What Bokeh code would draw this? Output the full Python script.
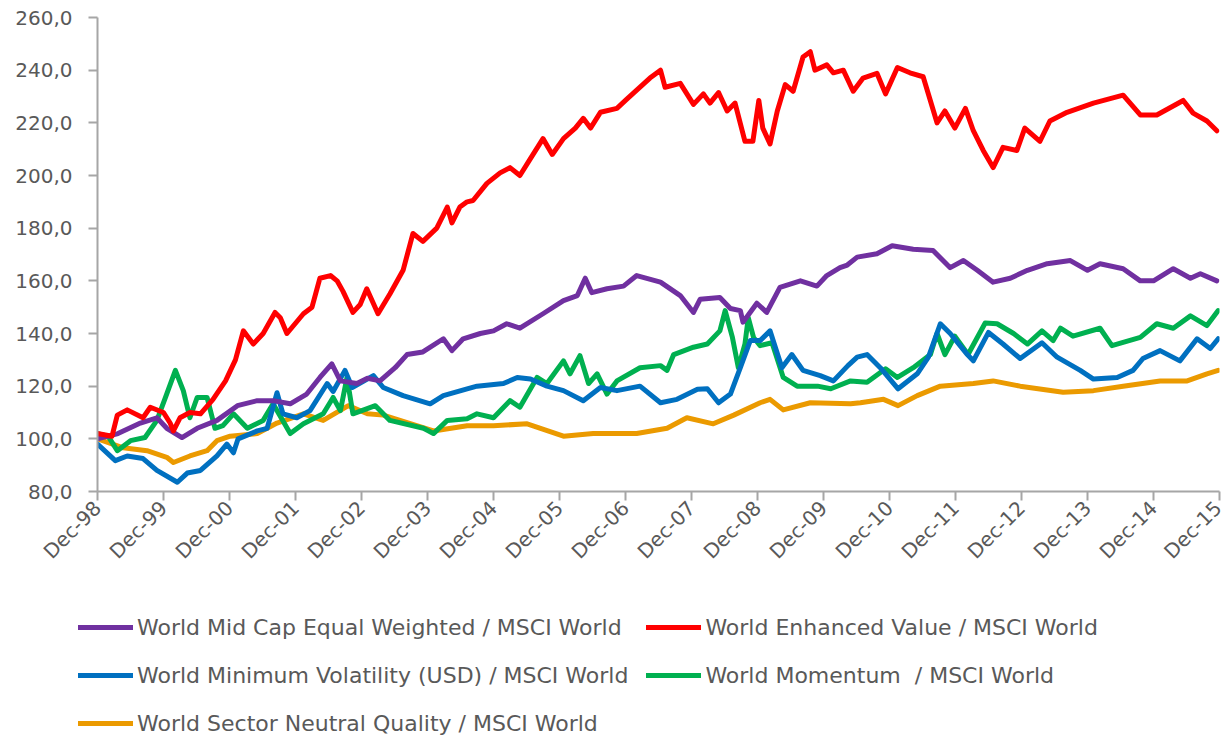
import math
from bokeh.plotting import figure
from bokeh.layouts import column, row
from bokeh.models import FixedTicker, Legend, LegendItem
from bokeh.embed import file_html
from bokeh.resources import INLINE

# ---- axis ticks / labels ----
x_tick_pos = list(range(1999, 2017))
x_tick_labels = ["Dec-98", "Dec-99", "Dec-00", "Dec-01", "Dec-02", "Dec-03", "Dec-04",
                 "Dec-05", "Dec-06", "Dec-07", "Dec-08", "Dec-09", "Dec-10", "Dec-11",
                 "Dec-12", "Dec-13", "Dec-14", "Dec-15"]
y_tick_pos = [80, 100, 120, 140, 160, 180, 200, 220, 240, 260]
y_tick_labels = ["80,0", "100,0", "120,0", "140,0", "160,0", "180,0", "200,0", "220,0", "240,0", "260,0"]

# ---- series (time in decimal years; 1999.0 = end of Dec-98) ----
midcap_t = [0, 0.31, 0.65, 0.90, 1.05, 1.28, 1.51, 1.81, 2.12, 2.42, 2.66, 2.92, 3.17, 3.37, 3.55,
            3.68, 3.93, 4.09, 4.28, 4.51, 4.69, 4.93, 5.24, 5.37, 5.54, 5.80, 6.00, 6.20, 6.40, 6.75,
            7.06, 7.27, 7.39, 7.49, 7.72, 7.97, 8.17, 8.53, 8.83, 9.03, 9.13, 9.43, 9.59, 9.74, 9.78,
            9.99, 10.14, 10.34, 10.65, 10.90, 11.05, 11.25, 11.36, 11.51, 11.81, 12.04, 12.36, 12.66,
            12.92, 13.12, 13.33, 13.57, 13.83, 14.09, 14.39, 14.74, 15.00, 15.19, 15.54, 15.80, 16.00,
            16.30, 16.56, 16.71, 16.96]
midcap_v = [100, 102, 106, 108, 104, 100.5, 104, 107, 112.6, 114.5, 114.5, 113.3, 117, 123.3, 128.5,
            122, 121, 123, 122, 127, 132, 133, 138, 133.5, 138, 140, 141, 143.7, 142, 147.5,
            152.5, 154.4, 161, 155.5, 157, 158, 162, 159.5, 154.4, 148, 153, 153.7, 149.5, 148.7, 144.3,
            151.5, 148, 157.5, 160, 158, 162, 165, 166, 169, 170.3, 173.3, 172, 171.5,
            165, 167.7, 164, 159.5, 161, 164, 166.5, 167.7, 164, 166.5, 164.6, 160, 160,
            164.6, 161, 162.7, 160]

value_t = [0, 0.22, 0.30, 0.45, 0.69, 0.80, 1.00, 1.10, 1.15, 1.25, 1.40, 1.56, 1.75, 1.94, 2.09,
           2.21, 2.36, 2.51, 2.69, 2.77, 2.87, 3.12, 3.25, 3.37, 3.53, 3.63, 3.72, 3.87, 3.98, 4.08,
           4.25, 4.43, 4.63, 4.78, 4.93, 5.14, 5.30, 5.37, 5.49, 5.60, 5.69, 5.90, 6.10, 6.25, 6.40,
           6.55, 6.75, 6.89, 7.06, 7.24, 7.36, 7.47, 7.62, 7.87, 8.02, 8.17, 8.37, 8.53, 8.60, 8.83,
           9.03, 9.18, 9.28, 9.41, 9.54, 9.66, 9.81, 9.93, 10.02, 10.08, 10.19, 10.30, 10.42, 10.54,
           10.69, 10.80, 10.87, 11.05, 11.15, 11.30, 11.45, 11.60, 11.81, 11.94, 12.12, 12.31, 12.51,
           12.72, 12.84, 12.99, 13.15, 13.27, 13.42, 13.57, 13.72, 13.93, 14.05, 14.28, 14.43, 14.69,
           15.09, 15.54, 15.80, 16.05, 16.45, 16.60, 16.81, 16.96]
value_v = [102, 101, 109, 111, 108, 112, 110, 106, 103, 108, 110, 109.5, 115, 122, 130,
           141, 136, 140, 148, 146, 140, 147.5, 150, 161, 162, 160, 156, 148, 151, 157,
           147.5, 155, 164, 178, 175, 180, 188, 182, 188, 190, 190.5, 197, 201, 203, 200,
           206, 214, 208, 214, 218, 221.7, 218, 224, 225.5, 229, 232.4, 237, 240, 233.5, 235,
           227, 231, 227.5, 231.5, 224.5, 227.5, 213, 213, 228.5, 218, 212, 224.5, 234.5, 232,
           245, 247, 240, 242, 239, 240, 232, 237, 238.8, 231, 241, 239, 237.5,
           220, 224.5, 218, 225.5, 217, 209.5, 203, 210.7, 209.5, 218, 213, 220.7, 224,
           227.5, 230.5, 223, 223, 228.5, 223.7, 220.7, 217]

minvol_t = [0, 0.27, 0.45, 0.69, 0.90, 1.21, 1.36, 1.56, 1.81, 1.96, 2.06, 2.13, 2.42, 2.57, 2.72,
            2.81, 3.02, 3.22, 3.48, 3.57, 3.75, 3.86, 4.18, 4.33, 4.63, 5.04, 5.24, 5.60, 5.75, 6.15,
            6.36, 6.56, 6.81, 7.06, 7.36, 7.62, 7.87, 8.22, 8.53, 8.78, 9.09, 9.24, 9.41, 9.59, 9.74,
            9.89, 10.04, 10.19, 10.37, 10.52, 10.69, 10.95, 11.15, 11.37, 11.51, 11.66, 11.86, 12.13,
            12.42, 12.59, 12.77, 12.92, 13.18, 13.27, 13.50, 13.72, 13.98, 14.31, 14.54, 14.89, 15.09,
            15.45, 15.69, 15.84, 16.10, 16.40, 16.66, 16.86, 16.98]
minvol_v = [98, 91.7, 93.5, 92.5, 88, 83.5, 87, 88, 93.5, 98, 94.7, 100, 103, 104, 117.5,
            109.5, 108, 110.7, 121, 118, 126, 119.5, 124, 119.5, 116.4, 113.3, 116.4, 119, 120, 121,
            123.3, 122.7, 120, 118.3, 114.5, 119.5, 118.3, 120, 113.7, 115, 118.8, 119, 113.7, 117, 127,
            137.3, 137.3, 141, 127, 132, 126, 124, 122, 127.8, 131, 132, 127, 119,
            124.7, 131, 143.7, 140, 132, 129.6, 140.4, 136, 130.5, 136.5, 131, 126, 122.7,
            123.3, 126, 130.5, 133.5, 129.6, 138, 134.3, 138]

momentum_t = [0, 0.16, 0.30, 0.50, 0.72, 0.90, 1.03, 1.18, 1.30, 1.40, 1.51, 1.66, 1.78, 1.90, 2.06,
              2.27, 2.51, 2.66, 2.92, 3.12, 3.42, 3.57, 3.68, 3.78, 3.87, 4.21, 4.43, 4.94, 5.09, 5.30,
              5.60, 5.75, 6.00, 6.25, 6.40, 6.66, 6.81, 7.06, 7.16, 7.31, 7.44, 7.57, 7.72, 7.87, 8.22,
              8.53, 8.63, 8.73, 9.03, 9.24, 9.43, 9.51, 9.62, 9.71, 9.81, 9.86, 9.94, 10.04, 10.22,
              10.39, 10.60, 10.91, 11.11, 11.41, 11.66, 11.94, 12.12, 12.36, 12.62, 12.72, 12.84, 12.99,
              13.19, 13.45, 13.63, 13.88, 14.09, 14.31, 14.48, 14.59, 14.78, 15.19, 15.37, 15.80, 16.05,
              16.30, 16.56, 16.81, 16.98]
momentum_v = [102, 101, 95.5, 99.3, 100.5, 107, 115.7, 126, 118.3, 108, 115.7, 115.7, 104, 105, 109.5,
              104, 107, 113.3, 102, 105.7, 109.5, 115.7, 110.7, 123.3, 109.5, 112.6, 107, 104, 102, 107,
              107.6, 109.5, 108, 114.5, 112, 123.3, 121, 129.6, 124.7, 131.6, 121, 124.7, 117, 122, 127,
              127.8, 126, 132, 134.8, 136, 141, 148.7, 138.5, 127, 136, 146, 138.5, 135.4, 136.5,
              123.3, 120, 120, 119, 122, 121.5, 126.6, 123.3, 127, 132, 140, 132, 139,
              132, 144, 143.7, 140, 136, 141, 137.3, 142, 139, 142, 135.4, 138.5, 143.7,
              142, 146.7, 143, 148.7]

quality_t = [0, 0.39, 0.75, 1.05, 1.15, 1.40, 1.66, 1.81, 2.01, 2.42, 2.72, 3.12, 3.42, 3.80, 4.09,
             4.33, 5.09, 5.60, 6.00, 6.51, 7.06, 7.51, 7.82, 8.17, 8.63, 8.93, 9.33, 9.64, 10.04, 10.19,
             10.39, 10.80, 11.41, 11.56, 11.91, 12.13, 12.42, 12.77, 13.27, 13.57, 13.98, 14.63, 15.09,
             15.54, 16.10, 16.51, 16.81, 16.98]
quality_v = [100, 96.6, 95.5, 93, 91, 93.5, 95.5, 99.3, 101, 102, 106, 109.5, 107, 112.6, 109.5,
             109, 103, 105, 105, 105.7, 101, 102, 102, 102, 104, 108, 105.7, 109, 113.7, 115,
             111, 113.7, 113.3, 113.7, 115, 112.6, 116.4, 120, 121, 122, 120, 117.7, 118.3,
             120, 122, 122, 124.7, 126]

series = [
    ("World Mid Cap Equal Weighted / MSCI World", midcap_t, midcap_v, "#7030A0"),
    ("World Enhanced Value / MSCI World", value_t, value_v, "#FF0000"),
    ("World Minimum Volatility (USD) / MSCI World", minvol_t, minvol_v, "#0070C0"),
    ("World Momentum  / MSCI World", momentum_t, momentum_v, "#00B050"),
    ("World Sector Neutral Quality / MSCI World", quality_t, quality_v, "#EB9A00"),
]
draw_order = [4, 3, 2, 0, 1]

FONT = "DejaVu Sans"
TXT = "#595959"
MAIN_H = 591

p = figure(width=1226, height=MAIN_H, x_range=(1999, 2016), y_range=(80, 260),
           output_backend="svg", toolbar_location=None,
           min_border_left=97, min_border_right=7, min_border_top=17, min_border_bottom=MAIN_H - 491)
p.outline_line_color = None
p.grid.grid_line_color = None

for i in draw_order:
    name, t, v, c = series[i]
    xs = [1999 + a for a in t]
    p.line(xs, v, line_color=c, line_width=5, line_join="round", line_cap="round")

for ax in (p.xaxis[0], p.yaxis[0]):
    ax.axis_line_color = "#A6A6A6"
    ax.axis_line_width = 2
    ax.major_tick_line_color = "#A6A6A6"
    ax.major_tick_line_width = 2
    ax.minor_tick_line_color = None
    ax.major_tick_in = 0
    ax.major_label_text_font = FONT
    ax.major_label_text_color = TXT
    ax.major_label_text_font_size = "20px"

p.yaxis[0].ticker = FixedTicker(ticks=y_tick_pos)
p.yaxis[0].major_label_overrides = {k: s for k, s in zip(y_tick_pos, y_tick_labels)}
p.yaxis[0].major_tick_out = 9
p.yaxis[0].major_label_standoff = 16

p.xaxis[0].ticker = FixedTicker(ticks=x_tick_pos)
p.xaxis[0].major_label_overrides = {k: s for k, s in zip(x_tick_pos, x_tick_labels)}
p.xaxis[0].major_tick_out = 9
p.xaxis[0].major_label_orientation = math.pi / 4
p.xaxis[0].major_label_standoff = 4

# ---- legend panel (own figure; proxy renderers sit outside its range, so only swatches show) ----
LEG_H = 736 - MAIN_H
q = figure(width=1226, height=LEG_H, x_range=(0, 1), y_range=(0, 1),
           output_backend="svg", toolbar_location=None,
           x_axis_type=None, y_axis_type=None,
           min_border_left=0, min_border_right=0, min_border_top=0, min_border_bottom=0)
q.outline_line_color = None
q.grid.grid_line_color = None

items = []
for name, t, v, c in series:
    r = q.line([-5, -4], [-5, -4], line_color=c, line_width=5, line_cap="round")
    items.append(LegendItem(label=name, renderers=[r]))

legend = Legend(items=items, orientation="horizontal", ncols=2,
                location=(78, -2), glyph_width=55, glyph_height=30,
                label_height=30, label_standoff=4, spacing=18, padding=0, margin=0,
                label_text_font=FONT, label_text_font_size="22px", label_text_color=TXT,
                border_line_color=None, background_fill_alpha=0)
q.add_layout(legend)

layout = column(p, row(q), spacing=0)
open("out.html", "w").write(file_html(layout, INLINE))
